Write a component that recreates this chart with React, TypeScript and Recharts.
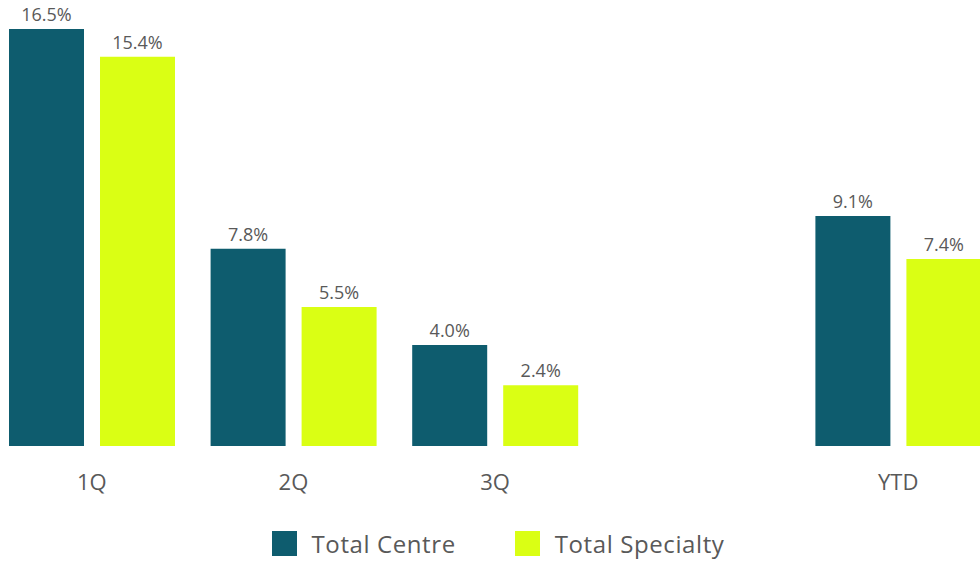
import { BarChart, Bar, XAxis, YAxis, Legend, LabelList } from 'recharts';

const quarters = ['1Q', '2Q', '3Q', '', 'YTD'];
const totalCentre = [16.5, 7.8, 4.0, null, 9.1];
const totalSpecialty = [15.4, 5.5, 2.4, null, 7.4];

const TEAL = '#0E5C6E';
const LIME = '#DAFF14';
const GREY = '#595959';
const FONT = '"Open Sans", sans-serif';

const chartData = quarters.map((q, i) => ({
  quarter: q,
  centre: totalCentre[i],
  specialty: totalSpecialty[i],
}));

const fmt = (v: any) => (v == null ? '' : `${Number(v).toFixed(1)}%`);

function renderLegend(props: any) {
  const { payload } = props;
  return (
    <div style={{ display: 'flex', justifyContent: 'center', height: 40, paddingLeft: 6 }}>
      {payload.map((entry: any, i: number) => (
        <div key={entry.value} style={{ display: 'flex', alignItems: 'center', marginLeft: i ? 59 : 0 }}>
          <span style={{ width: 25, height: 25, background: entry.color, display: 'inline-block' }} />
          <span style={{ marginLeft: 15, fontSize: 24, letterSpacing: 0.6, color: GREY, fontFamily: FONT }}>{entry.value}</span>
        </div>
      ))}
    </div>
  );
}

export default function App() {
  return (
    <div style={{ position: 'absolute', left: 0, top: 0, width: 980, height: 569, background: '#fff' }}>
      <BarChart
        width={980}
        height={569}
        data={chartData}
        margin={{ top: 29, right: -19, bottom: 6, left: -9 }}
        barSize={75}
        barGap={16}
      >
        <XAxis
          dataKey="quarter"
          axisLine={false}
          tickLine={false}
          height={77}
          tick={{ fill: GREY, fontSize: 22, fontFamily: FONT }}
          tickMargin={22}
        />
        <YAxis hide domain={[0, 16.5]} />
        <Legend content={renderLegend} verticalAlign="bottom" />
        <Bar dataKey="centre" name="Total Centre" fill={TEAL} isAnimationActive={false}>
          <LabelList dataKey="centre" position="top" offset={8} formatter={fmt} fill={GREY} fontSize={18} fontFamily={FONT} />
        </Bar>
        <Bar dataKey="specialty" name="Total Specialty" fill={LIME} isAnimationActive={false}>
          <LabelList dataKey="specialty" position="top" offset={8} formatter={fmt} fill={GREY} fontSize={18} fontFamily={FONT} />
        </Bar>
      </BarChart>
    </div>
  );
}
